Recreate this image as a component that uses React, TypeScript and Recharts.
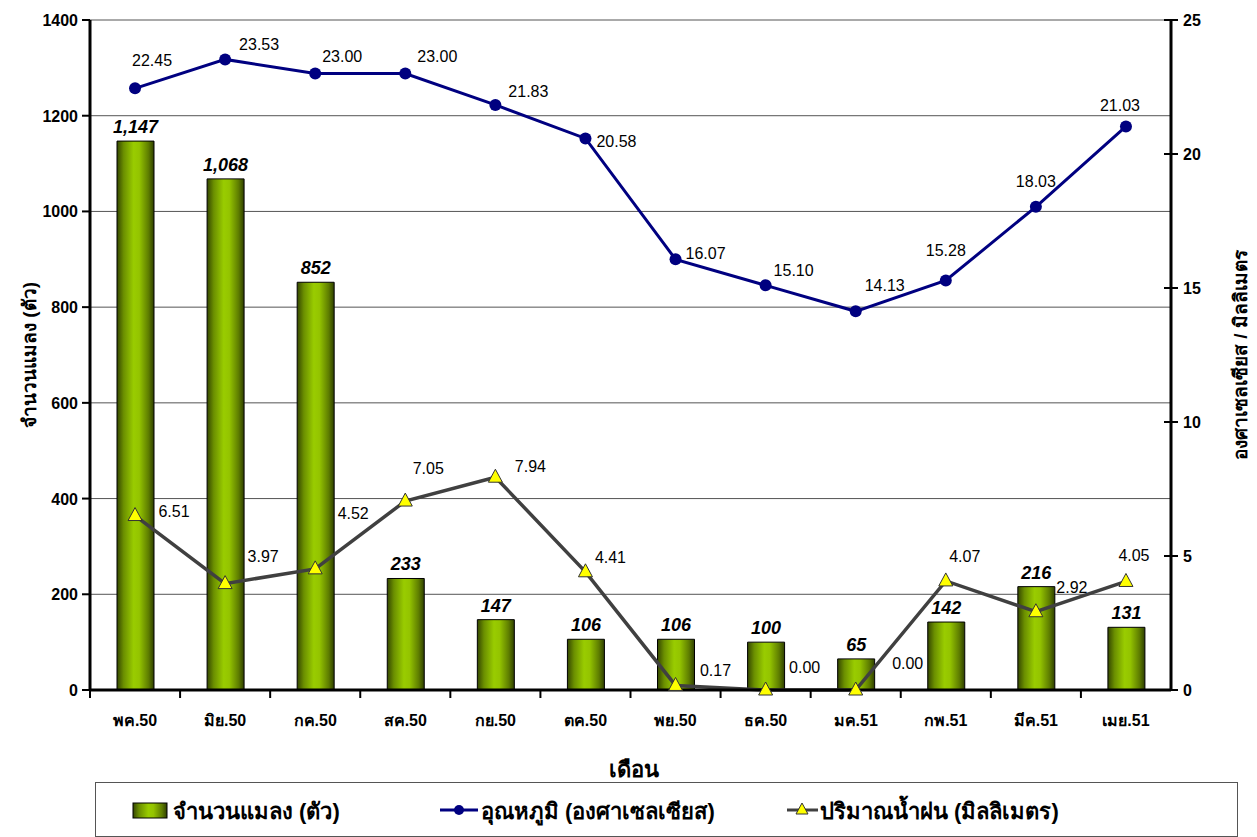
import React from "react";
import {
  ComposedChart,
  Bar,
  Line,
  XAxis,
  YAxis,
  CartesianGrid,
  LabelList,
} from "recharts";

const months = ["พค.50", "มิย.50", "กค.50", "สค.50", "กย.50", "ตค.50", "พย.50", "ธค.50", "มค.51", "กพ.51", "มีค.51", "เมย.51"];
const insects = [1147, 1068, 852, 233, 147, 106, 106, 100, 65, 142, 216, 131];
const temperature = [22.45, 23.53, 23.0, 23.0, 21.83, 20.58, 16.07, 15.1, 14.13, 15.28, 18.03, 21.03];
const rainfall = [6.51, 3.97, 4.52, 7.05, 7.94, 4.41, 0.17, 0.0, 0.0, 4.07, 2.92, 4.05];
const leftTicks = [0, 200, 400, 600, 800, 1000, 1200, 1400];
const rightTicks = [0, 5, 10, 15, 20, 25];

// hand-placed label nudges (dx, dy from the point to the label centre)
const tempNudge = [[17, -28], [34, -15], [27, -18], [32, -18], [33, -14], [31, 3], [30, -6], [28, -15], [29, -26], [0, -30], [0, -26], [-6, -21]];
const rainNudge = [[39, -5], [38, -28], [38, -56], [23, -33], [35, -11], [25, -15], [40, -15], [39, -23], [52, -27], [19, -25], [36, -25], [8, -26]];

const data = months.map((m, i) => ({
  month: m,
  insects: insects[i],
  temp: temperature[i],
  rain: rainfall[i],
}));

const FONT = "'Liberation Sans', Arial, 'DejaVu Sans', sans-serif";
const W = 1257;
const H = 837;
const PLOT_LEFT = 90;
const PLOT_RIGHT = 1171;
const BAND = (PLOT_RIGHT - PLOT_LEFT) / months.length;

const BarGradient = ({ id }: { id: string }) => (
  <linearGradient id={id} x1="0" y1="0" x2="1" y2="0">
    <stop offset="0%" stopColor="#344600" />
    <stop offset="18%" stopColor="#6b8f00" />
    <stop offset="45%" stopColor="#99cc00" />
    <stop offset="60%" stopColor="#94c400" />
    <stop offset="85%" stopColor="#5e7d00" />
    <stop offset="100%" stopColor="#2f3f00" />
  </linearGradient>
);

const MonthTick = (props: any) => {
  const { x, y, payload } = props;
  return (
    <g>
      <line x1={x - BAND / 2} x2={x - BAND / 2} y1={y - 8} y2={y} stroke="#000" strokeWidth={2} />
      <text x={x} y={y + 28} textAnchor="middle" fontFamily={FONT} fontWeight="bold" fontSize={16} fill="#000">
        {payload.value}
      </text>
    </g>
  );
};

const RightTick = (props: any) => {
  const { x, y, payload } = props;
  const axisX = x - 12;
  return (
    <g>
      <line x1={axisX - 7} x2={axisX + 7} y1={y} y2={y} stroke="#000" strokeWidth={2} />
      <text x={x} y={y + 6} textAnchor="start" fontFamily={FONT} fontWeight="bold" fontSize={16} fill="#000">
        {payload.value}
      </text>
    </g>
  );
};

const LeftTick = (props: any) => {
  const { x, y, payload } = props;
  return (
    <text x={x} y={y + 6} textAnchor="end" fontFamily={FONT} fontWeight="bold" fontSize={16} fill="#000">
      {payload.value}
    </text>
  );
};

const BarValue = (props: any) => {
  const { x, y, width, value } = props;
  return (
    <text x={x + width / 2} y={y - 8} textAnchor="middle" fontFamily={FONT} fontWeight="bold" fontStyle="italic" fontSize={18} fill="#000">
      {Number(value).toLocaleString("en-US")}
    </text>
  );
};

const PointValue = (nudge: number[][]) => (props: any) => {
  const { x, y, value, index } = props;
  const [dx, dy] = nudge[index];
  return (
    <text x={x + dx} y={y + dy + 6} textAnchor="middle" fontFamily={FONT} fontSize={16} fill="#000">
      {Number(value).toFixed(2)}
    </text>
  );
};
const TempValue = PointValue(tempNudge);
const RainValue = PointValue(rainNudge);

const Triangle = (props: any) => {
  const { cx, cy } = props;
  if (cx == null || cy == null) return null;
  return (
    <path
      d={`M${cx},${cy - 8} L${cx + 7},${cy + 5} L${cx - 7},${cy + 5} Z`}
      fill="#ffff00"
      stroke="#333"
      strokeWidth={1}
    />
  );
};

const LegendBox = () => (
  <svg width={W} height={H} style={{ position: "absolute", left: 0, top: 0, pointerEvents: "none" }}>
    <defs>
      <BarGradient id="legendBar" />
    </defs>
    <rect x={95.5} y={782.5} width={1142} height={54} fill="#fff" stroke="#555" strokeWidth={1} />
    <rect x={133} y={803} width={34} height={15} fill="url(#legendBar)" stroke="#000" />
    <text x={173} y={819} fontFamily={FONT} fontWeight="bold" fontSize={22}>จำนวนแมลง (ตัว)</text>
    <line x1={440} x2={478} y1={810} y2={810} stroke="#000080" strokeWidth={3} />
    <circle cx={459} cy={810} r={5} fill="#000080" />
    <text x={481} y={819} fontFamily={FONT} fontWeight="bold" fontSize={22}>อุณหภูมิ (องศาเซลเซียส)</text>
    <line x1={787} x2={818} y1={810} y2={810} stroke="#404040" strokeWidth={3} />
    <path d="M802,803 L808,814 L796,814 Z" fill="#ffff00" stroke="#333" />
    <text x={820} y={819} fontFamily={FONT} fontWeight="bold" fontSize={22}>ปริมาณน้ำฝน (มิลลิเมตร)</text>
  </svg>
);

export default function App() {
  return (
    <div style={{ position: "absolute", left: 0, top: 0, width: W, height: H, background: "#fff" }}>
      <ComposedChart
        width={W}
        height={H}
        data={data}
        margin={{ top: 20, right: 26, left: 30, bottom: 117 }}
      >
        <defs>
          <BarGradient id="insectBar" />
        </defs>
        <CartesianGrid vertical={false} stroke="#555" strokeWidth={1} yAxisId="left" />
        <XAxis
          dataKey="month"
          height={30}
          tickSize={8}
          tickMargin={0}
          tickLine={false}
          axisLine={{ stroke: "#000", strokeWidth: 3 }}
          tick={<MonthTick />}
          interval={0}
        />
        <YAxis
          yAxisId="left"
          width={60}
          domain={[0, 1400]}
          ticks={leftTicks}
          tickSize={8}
          tickMargin={4}
          tickLine={{ stroke: "#000", strokeWidth: 2 }}
          axisLine={{ stroke: "#000", strokeWidth: 3 }}
          tick={<LeftTick />}
          label={{
            value: "จำนวนแมลง (ตัว)",
            angle: -90,
            position: "insideLeft",
            dx: -6,
            style: { textAnchor: "middle", fontFamily: FONT, fontWeight: "bold", fontSize: 19, fill: "#000" },
          }}
        />
        <YAxis
          yAxisId="right"
          orientation="right"
          width={60}
          domain={[0, 25]}
          ticks={rightTicks}
          tickSize={8}
          tickMargin={4}
          tickLine={false}
          axisLine={{ stroke: "#000", strokeWidth: 3 }}
          tick={<RightTick />}
          label={{
            value: "องศาเซลเซียส / มิลลิเมตร",
            angle: -90,
            position: "insideRight",
            dx: 14,
            style: { textAnchor: "middle", fontFamily: FONT, fontWeight: "bold", fontSize: 19, fill: "#000" },
          }}
        />
        <Bar
          yAxisId="left"
          dataKey="insects"
          barSize={37}
          fill="url(#insectBar)"
          stroke="#000"
          strokeWidth={1}
          isAnimationActive={false}
        >
          <LabelList dataKey="insects" content={<BarValue />} />
        </Bar>
        <Line
          yAxisId="right"
          dataKey="temp"
          stroke="#000080"
          strokeWidth={3}
          dot={{ r: 6, fill: "#000080", stroke: "#000080", strokeWidth: 0 }}
          isAnimationActive={false}
        >
          <LabelList dataKey="temp" content={<TempValue />} />
        </Line>
        <Line
          yAxisId="right"
          dataKey="rain"
          stroke="#404040"
          strokeWidth={3.5}
          dot={<Triangle />}
          isAnimationActive={false}
        >
          <LabelList dataKey="rain" content={<RainValue />} />
        </Line>
      </ComposedChart>
      <div
        style={{
          position: "absolute",
          left: 0,
          width: 1268,
          top: 752,
          textAlign: "center",
          fontFamily: FONT,
          fontWeight: "bold",
          fontSize: 22,
        }}
      >
        เดือน
      </div>
      <LegendBox />
    </div>
  );
}
